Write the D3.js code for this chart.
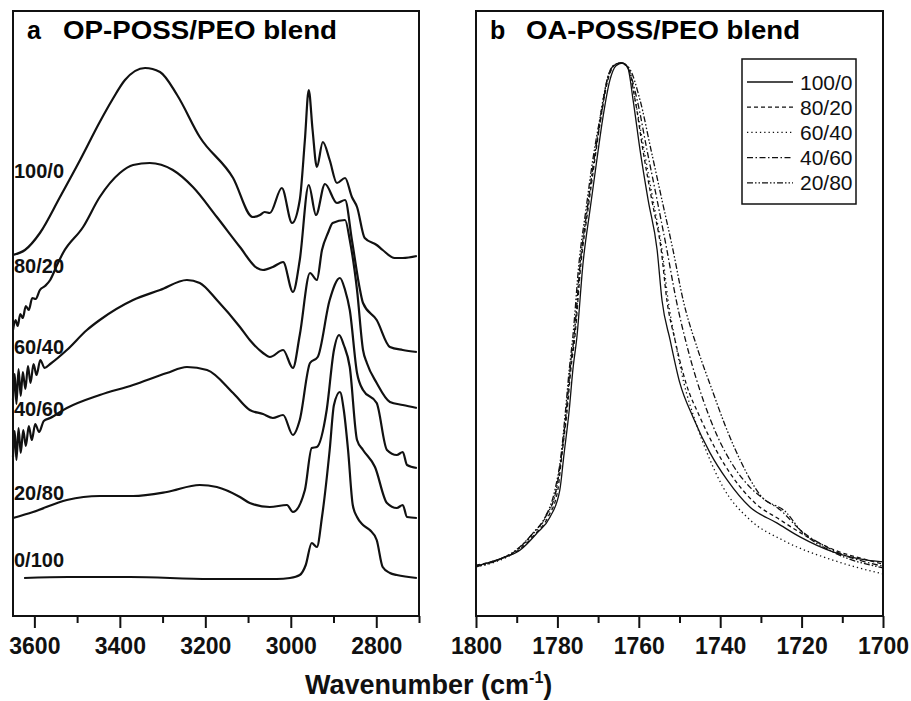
<!DOCTYPE html>
<html>
<head>
<meta charset="utf-8">
<script src="https://cdn.jsdelivr.net/npm/d3@7"></script>
<style>
  body { margin: 0; background: #fff; }
  svg { display: block; font-family: "Liberation Sans", Arial, sans-serif; }
</style>
</head>
<body>
<div id="app"></div>
<script>
// ---- panel a: OP-POSS/PEO, [wavenumber, absorbance (offset, a.u.)] ----
const blendsA = ["100/0", "80/20", "60/40", "40/60", "20/80", "0/100"];
const labelLevelA = [4.45, 3.50, 2.69, 2.07, 1.23, 0.56];

const op100 = [[3650,3.61],[3622,3.66],[3587,3.83],[3540,4.19],[3493,4.56],[3447,4.94],[3418,5.16],[3388,5.36],[3341,5.48],[3306,5.44],[3266,5.21],[3213,4.79],[3135,4.38],[3089,3.99],[3072,4.01],[3061,4.04],[3049,4.03],[3021,4.28],[2997,3.93],[2979,4.16],[2967,4.76],[2958,5.26],[2949,4.86],[2939,4.49],[2925,4.74],[2909,4.56],[2892,4.33],[2873,4.38],[2857,4.19],[2845,4.09],[2827,3.78],[2799,3.71],[2785,3.66],[2757,3.58],[2738,3.58],[2705,3.60]];
const op80 = [[3650,2.86],[3644,2.96],[3639,2.90],[3633,3.02],[3627,2.98],[3620,3.10],[3613,3.06],[3605,3.18],[3597,3.17],[3587,3.26],[3575,3.30],[3563,3.36],[3548,3.50],[3533,3.63],[3486,3.89],[3447,4.19],[3400,4.43],[3369,4.51],[3330,4.53],[3276,4.46],[3229,4.29],[3173,3.99],[3119,3.69],[3079,3.48],[3065,3.46],[3042,3.49],[3018,3.54],[2995,3.24],[2979,3.56],[2958,4.31],[2941,4.01],[2920,4.32],[2892,4.13],[2873,4.16],[2857,3.76],[2838,3.26],[2831,3.13],[2799,2.96],[2768,2.69],[2738,2.66],[2705,2.64]];
const op60 = [[3650,2.16],[3646,2.42],[3642,2.12],[3637,2.47],[3632,2.20],[3627,2.44],[3621,2.27],[3615,2.50],[3609,2.33],[3602,2.52],[3595,2.41],[3586,2.56],[3576,2.48],[3563,2.52],[3524,2.66],[3477,2.86],[3447,2.96],[3369,3.16],[3306,3.26],[3243,3.36],[3213,3.33],[3173,3.16],[3119,2.89],[3096,2.76],[3065,2.63],[3049,2.59],[3018,2.66],[2995,2.48],[2979,2.81],[2955,3.43],[2939,3.36],[2927,3.66],[2913,3.83],[2902,3.93],[2873,3.96],[2862,3.76],[2845,3.26],[2831,2.66],[2822,2.53],[2799,2.33],[2768,2.14],[2738,2.11],[2705,2.08]];
const op40 = [[3650,1.59],[3646,1.85],[3642,1.56],[3637,1.88],[3632,1.63],[3626,1.86],[3620,1.70],[3613,1.90],[3606,1.76],[3598,1.92],[3589,1.84],[3578,1.95],[3563,1.98],[3524,2.08],[3447,2.21],[3369,2.31],[3290,2.43],[3243,2.49],[3196,2.46],[3135,2.23],[3096,2.06],[3065,2.02],[3042,1.98],[3018,2.01],[2995,1.81],[2979,1.96],[2955,2.53],[2937,2.59],[2909,3.16],[2885,3.38],[2873,3.26],[2862,3.06],[2845,2.43],[2831,2.26],[2799,2.13],[2775,1.66],[2752,1.61],[2738,1.64],[2728,1.51],[2705,1.48]];
const op20 = [[3650,0.98],[3603,1.04],[3524,1.16],[3447,1.20],[3369,1.20],[3290,1.24],[3213,1.31],[3173,1.29],[3119,1.19],[3096,1.13],[3049,1.09],[3009,1.11],[2995,1.04],[2967,1.26],[2951,1.68],[2939,1.69],[2916,2.06],[2899,2.66],[2887,2.81],[2876,2.71],[2862,2.49],[2845,1.76],[2831,1.66],[2803,1.49],[2775,1.13],[2752,1.08],[2738,1.11],[2728,0.99],[2705,0.98]];
const op0 = [[3624,0.38],[3521,0.39],[3376,0.39],[3189,0.37],[3033,0.37],[3002,0.38],[2979,0.41],[2965,0.51],[2951,0.73],[2939,0.69],[2927,0.99],[2909,1.66],[2899,2.11],[2885,2.24],[2876,2.06],[2866,1.66],[2855,1.11],[2845,0.99],[2831,0.91],[2815,0.86],[2799,0.76],[2785,0.49],[2768,0.43],[2752,0.41],[2705,0.38]];
const spectraA = [op100, op80, op60, op40, op20, op0];

const ticksA = [3600, 3400, 3200, 3000, 2800];
const minorA = [3500, 3300, 3100, 2900, 2700];

// ---- panel b: OA-POSS/PEO, normalised C=O band ----
const blendsB = ["100/0", "80/20", "60/40", "40/60", "20/80"];
const oa100 = [[1800.0,0.090],[1793.4,0.105],[1789.2,0.119],[1785.0,0.150],[1781.8,0.179],[1779.4,0.228],[1778.4,0.291],[1777.1,0.372],[1776.2,0.445],[1775.2,0.505],[1773.7,0.638],[1772.0,0.734],[1770.3,0.825],[1768.8,0.902],[1767.1,0.969],[1765.6,0.995],[1764.1,1.000],[1762.7,0.991],[1761.4,0.933],[1759.7,0.843],[1757.7,0.752],[1755.5,0.662],[1754.3,0.571],[1752.3,0.499],[1749.9,0.421],[1746.7,0.360],[1742.5,0.295],[1738.3,0.246],[1732.7,0.197],[1726.0,0.168],[1720.4,0.143],[1712.3,0.116],[1703.9,0.101],[1700.0,0.098]];
const oa80 = [[1800.0,0.092],[1794.1,0.103],[1789.2,0.121],[1785.5,0.148],[1782.3,0.179],[1779.9,0.228],[1778.9,0.291],[1777.6,0.372],[1776.7,0.445],[1775.7,0.505],[1774.2,0.638],[1772.5,0.734],[1770.8,0.825],[1769.3,0.902],[1767.6,0.969],[1766.1,0.995],[1764.4,1.000],[1762.7,0.993],[1760.9,0.933],[1759.0,0.843],[1756.8,0.752],[1754.5,0.662],[1753.1,0.571],[1751.1,0.499],[1748.4,0.421],[1745.0,0.360],[1741.0,0.300],[1736.9,0.251],[1731.4,0.204],[1725.3,0.174],[1719.7,0.148],[1711.8,0.119],[1703.7,0.101],[1700.0,0.094]];
const oa60 = [[1800.0,0.089],[1794.1,0.101],[1789.7,0.119],[1786.0,0.148],[1782.8,0.179],[1780.3,0.228],[1779.0,0.291],[1777.8,0.372],[1776.9,0.445],[1775.9,0.505],[1774.4,0.638],[1772.7,0.734],[1771.0,0.825],[1769.5,0.902],[1767.8,0.969],[1766.1,0.996],[1764.4,1.000],[1762.7,0.993],[1760.9,0.933],[1758.7,0.843],[1756.5,0.752],[1754.3,0.662],[1752.8,0.571],[1751.1,0.499],[1748.9,0.421],[1746.2,0.354],[1743.0,0.291],[1739.3,0.233],[1732.7,0.174],[1724.6,0.137],[1712.3,0.101],[1700.0,0.076]];
const oa40 = [[1800.0,0.090],[1794.1,0.103],[1789.7,0.121],[1786.0,0.150],[1782.8,0.181],[1780.3,0.228],[1779.0,0.291],[1777.8,0.372],[1776.9,0.445],[1775.9,0.505],[1774.4,0.638],[1772.7,0.734],[1771.0,0.825],[1769.3,0.902],[1767.8,0.969],[1766.1,0.996],[1764.4,1.000],[1762.7,0.991],[1760.4,0.933],[1758.0,0.843],[1755.5,0.752],[1753.1,0.662],[1750.8,0.571],[1747.9,0.481],[1744.2,0.391],[1740.8,0.327],[1736.9,0.273],[1732.7,0.233],[1729.0,0.210],[1725.3,0.192],[1720.4,0.156],[1712.3,0.119],[1700.0,0.090]];
const oa20 = [[1800.0,0.089],[1794.6,0.101],[1790.2,0.119],[1786.2,0.148],[1783.0,0.179],[1780.6,0.228],[1779.1,0.291],[1778.0,0.372],[1777.1,0.445],[1776.2,0.505],[1774.7,0.638],[1773.0,0.734],[1771.3,0.825],[1769.5,0.902],[1767.8,0.969],[1766.1,0.996],[1764.4,1.000],[1762.4,0.991],[1759.7,0.933],[1757.0,0.843],[1754.3,0.752],[1751.6,0.662],[1749.1,0.571],[1745.7,0.486],[1742.0,0.409],[1738.8,0.345],[1735.1,0.282],[1730.2,0.219],[1723.6,0.186],[1720.4,0.156],[1712.3,0.116],[1700.0,0.087]];
const spectraB = [oa100, oa80, oa60, oa40, oa20];
const dashB = [null, "4,3", "1.3,3", "6,2.5,1.5,2.5", "6,2,1.5,2,1.5,2"];

const ticksB = [1800, 1780, 1760, 1740, 1720, 1700];
const minorB = [1790, 1770, 1750, 1730, 1710];

const chart = () => {
  const width = 911;
  const height = 701;
  const top = 11;
  const bottom = 616;
  const svg = d3.create("svg").attr("width", width).attr("height", height);

  const xA = d3.scaleLinear().domain([3650, 2700]).range([13, 419]);
  const yA = d3.scaleLinear().domain([0, 6.05]).range([bottom, top]);
  const xB = d3.scaleLinear().domain([1800, 1700]).range([476, 883]);
  const yB = d3.scaleLinear().domain([0, 1.094]).range([bottom, top]);

  const drawAxis = (x, major, minor) => {
    const g = svg.append("g").attr("transform", `translate(0,${bottom})`);
    g.call(
      d3.axisBottom(x).tickValues(major).tickSize(12).tickPadding(10).tickFormat(d3.format("d"))
    ).call((s) => s.select(".domain").remove());
    g.selectAll(".tick line").attr("stroke", "#111").attr("stroke-width", 2);
    g.selectAll(".tick text")
      .attr("fill", "#111")
      .style("font-size", "23px")
      .style("font-weight", "bold")
      .style("font-family", "'Liberation Sans', Arial, sans-serif");
    const m = svg.append("g").attr("transform", `translate(0,${bottom})`);
    m.call(d3.axisBottom(x).tickValues(minor).tickSize(7).tickFormat(""))
      .call((s) => s.select(".domain").remove());
    m.selectAll(".tick line").attr("stroke", "#111").attr("stroke-width", 2);
  };

  // panel a
  const lineA = d3.line().x((d) => xA(d[0])).y((d) => yA(d[1])).curve(d3.curveMonotoneX);
  svg.append("g")
    .selectAll("path")
    .data(spectraA)
    .join("path")
    .attr("d", lineA)
    .attr("fill", "none")
    .attr("stroke", "#111")
    .attr("stroke-width", 2.2)
    .attr("stroke-linejoin", "round");

  svg.append("g")
    .selectAll("text")
    .data(blendsA)
    .join("text")
    .attr("x", 14)
    .attr("y", (d, i) => yA(labelLevelA[i]) + 7)
    .text((d) => d)
    .style("font-size", "20px")
    .style("font-weight", "bold")
    .attr("fill", "#111");

  svg.append("rect")
    .attr("x", xA.range()[0]).attr("y", top)
    .attr("width", xA.range()[1] - xA.range()[0]).attr("height", bottom - top)
    .attr("fill", "none").attr("stroke", "#111").attr("stroke-width", 2);
  drawAxis(xA, ticksA, minorA);

  svg.append("text").attr("x", 27).attr("y", 39).text("a")
    .style("font-size", "25px").style("font-weight", "bold");
  svg.append("text").attr("x", 63).attr("y", 39).text("OP-POSS/PEO blend")
    .attr("textLength", 274).attr("lengthAdjust", "spacingAndGlyphs")
    .style("font-size", "25px").style("font-weight", "bold");

  // panel b
  const lineB = d3.line().x((d) => xB(d[0])).y((d) => yB(d[1])).curve(d3.curveMonotoneX);
  svg.append("g")
    .selectAll("path")
    .data(spectraB)
    .join("path")
    .attr("d", lineB)
    .attr("fill", "none")
    .attr("stroke", "#111")
    .attr("stroke-width", 1.3)
    .attr("stroke-dasharray", (d, i) => dashB[i]);

  svg.append("rect")
    .attr("x", xB.range()[0]).attr("y", top)
    .attr("width", xB.range()[1] - xB.range()[0]).attr("height", bottom - top)
    .attr("fill", "none").attr("stroke", "#111").attr("stroke-width", 2);
  drawAxis(xB, ticksB, minorB);

  svg.append("text").attr("x", 490).attr("y", 39).text("b")
    .style("font-size", "25px").style("font-weight", "bold");
  svg.append("text").attr("x", 526).attr("y", 39).text("OA-POSS/PEO blend")
    .attr("textLength", 274).attr("lengthAdjust", "spacingAndGlyphs")
    .style("font-size", "25px").style("font-weight", "bold");

  // legend
  const legend = svg.append("g").attr("transform", "translate(742,59)");
  legend.append("rect").attr("width", 114).attr("height", 145)
    .attr("fill", "#fff").attr("stroke", "#111").attr("stroke-width", 1.5);
  const item = legend.selectAll("g")
    .data(blendsB)
    .join("g")
    .attr("transform", (d, i) => `translate(0,${23 + i * 25.2})`);
  item.append("line")
    .attr("x1", 5).attr("x2", 51)
    .attr("stroke", "#111").attr("stroke-width", 1.3)
    .attr("stroke-dasharray", (d, i) => dashB[i]);
  item.append("text")
    .attr("x", 58).attr("y", 7.5)
    .text((d) => d)
    .style("font-size", "21px")
    .attr("fill", "#111");

  // shared x label
  const xl = svg.append("text").attr("x", 305).attr("y", 694)
    .style("font-size", "27px").style("font-weight", "bold").attr("fill", "#111");
  xl.append("tspan").text("Wavenumber (cm");
  xl.append("tspan").text("-1").attr("dy", -11).style("font-size", "16px");
  xl.append("tspan").text(")").attr("dy", 11);

  return svg.node();
};

d3.select("#app").append(chart);
</script>
</body>
</html>
